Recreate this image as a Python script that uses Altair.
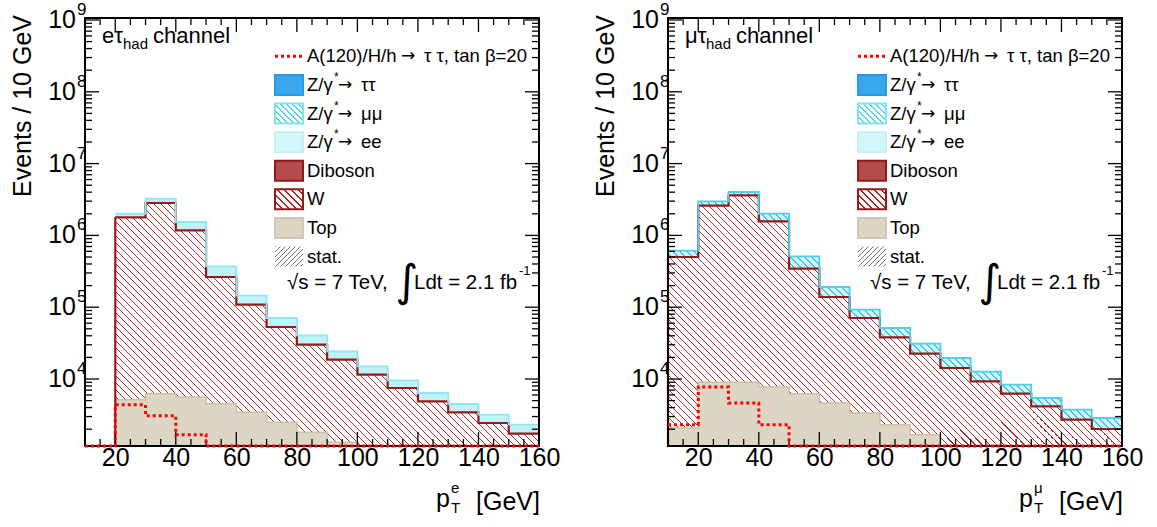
import math
import altair as alt
import pandas as pd

# ---------------- data ----------------
BIN_LO = [10, 20, 30, 40, 50, 60, 70, 80, 90, 100, 110, 120, 130, 140, 150]
BIN_END = 160
X_LABELS = [20, 40, 60, 80, 100, 120, 140, 160]
X_MINOR = [15, 25, 30, 35, 45, 50, 55, 65, 70, 75, 85, 90, 95, 105, 110, 115, 125, 130, 135, 145, 150, 155]
Y_EXPONENTS = [4, 5, 6, 7, 8, 9]
Y_MINOR_MULT = [2, 3, 4, 5, 6, 7, 8, 9]
Y_DOMAIN = [1167, 1.066e9]
X_DOMAIN = [10, 160]

# e tau_had channel (cumulative stack levels)
E_W = [None, 1.787e6, 2.827e6, 1.178e6, 2.634e5, 1.084e5, 5.30e4, 3.005e4, 1.857e4, 1.148e4, 7493, 4892, 3438, 2439, 1731]
E_TOTAL = [None, 2.006e6, 3.245e6, 1.537e6, 3.713e5, 1.446e5, 7.07e4, 4.061e4, 2.431e4, 1.503e4, 9592, 6384, 4486, 3183, 2310]
E_TOP = [None, 5149, 6243, 5615, 4529, 3438, 2495, 1809, 1314, 950, 750, 600, 450, 350, 250]
E_SIGNAL = [900, 4386, 3083, 1676, 1000, 850, 700, 600, 500, 400, 300, 250, 200, 150, 120]

# mu tau_had channel
M_W = [5.003e5, 2.593e6, 3.618e6, 1.572e6, 3.439e5, 1.387e5, 7.07e4, 3.809e4, 2.251e4, 1.423e4, 9290, 6243, 4168, 2713, 2012]
M_TOTAL = [6.124e5, 2.985e6, 4.022e6, 2.006e6, 5.117e5, 1.911e5, 9.23e4, 5.133e4, 3.102e4, 1.961e4, 1.264e4, 8332, 5438, 3737, 2863]
M_TOP = [2078, 8998, 8998, 7739, 6243, 4632, 3361, 2310, 1676, 950, 750, 600, 450, 350, 250]
M_SIGNAL = [2310, 7739, 4632, 2310, 1000, 850, 700, 600, 500, 400, 300, 250, 200, 150, 120]

LEGEND_SIGNAL = ["A(120)/H/h", "\u2192", "\u03c4 \u03c4, tan \u03b2=20"]
LEGEND_Z = ["\u03c4\u03c4", "\u03bc\u03bc", "ee"]
LEGEND_OTHER = ["Diboson", "W", "Top", "stat."]
Y_TITLE = "Events / 10 GeV"

FONT = "Liberation Sans, Arial, DejaVu Sans"
PW, PH = 454, 428

# ---------------- helpers ----------------
LY0, LY1 = math.log10(Y_DOMAIN[0]), math.log10(Y_DOMAIN[1])


def xs(v):
    return PW * (v - X_DOMAIN[0]) / (X_DOMAIN[1] - X_DOMAIN[0])


def ys(v):
    v = max(v, Y_DOMAIN[0])
    return PH * (1 - (math.log10(v) - LY0) / (LY1 - LY0))


def hatch(bw, bh, period, lw, line, gap, direction="back"):
    total = bw + bh
    stops = []
    j = 0
    while j * period < total:
        a = j * period / total
        b = min((j * period + lw) / total, 1)
        c = min((j + 1) * period / total, 1)
        stops += [{"offset": a, "color": line}, {"offset": b, "color": line},
                  {"offset": b, "color": gap}, {"offset": c, "color": gap}]
        j += 1
    k = total / (bw ** 2 + bh ** 2)
    if direction == "back":
        x1, y1, x2, y2 = 0, 1, k * bw, 1 - k * bh
    else:
        x1, y1, x2, y2 = 0, 0, k * bw, k * bh
    return {"gradient": "linear", "x1": x1, "y1": y1, "x2": x2, "y2": y2, "stops": stops}


def step_df(vals, vals2=None):
    rows = []
    last = None
    for i, lo in enumerate(BIN_LO):
        v = vals[i]
        if v is None:
            continue
        r = {"x": lo, "v": v}
        if vals2 is not None:
            r["v2"] = vals2[i]
        rows.append(r)
        last = dict(r)
    last["x"] = BIN_END
    rows.append(last)
    return pd.DataFrame(rows)


ONE = pd.DataFrame({"k": [0]})
XSCALE = alt.Scale(domain=X_DOMAIN, nice=False, zero=False)
YSCALE = alt.Scale(type="log", domain=Y_DOMAIN, nice=False, clamp=True)
XAXIS = alt.Axis(values=X_LABELS, labelFont=FONT, labelFontSize=25, labelColor="black",
                 tickSize=0, domain=False, grid=False, labelPadding=11, labelBaseline="middle",
                 title=None, labelFlush=False, labelOverlap=False)
XENC = alt.X("x:Q", scale=XSCALE, axis=XAXIS)
YENC = alt.Y("v:Q", scale=YSCALE, axis=None)


def txt(s, x, y, size, align="left", baseline="middle", dy=0, angle=0, font=FONT, color="black"):
    return alt.Chart(ONE).mark_text(text=s, fontSize=size, align=align, baseline=baseline,
                                    dy=dy, angle=angle, font=font, color=color).encode(
        x=alt.value(x), y=alt.value(y))


def panel(Wv, Tv, Topv, Sv, chan, xsup, band_kind):
    layers = []
    wdf = step_df(Wv)
    first_x = wdf["x"].iloc[0]
    bw = PW - xs(first_x)
    bh = PH - ys(max(v for v in Wv if v is not None))
    wfill = hatch(bw, bh, 7.0, 1.6, "#ad2a2a", "#ffffff")
    layers.append(alt.Chart(wdf).mark_area(interpolate="step-after", fill=wfill, opacity=1)
                  .encode(x=XENC, y=YENC, y2=alt.value(PH)))
    # Z band between W and total
    bdf = step_df(Tv, Wv)
    if band_kind == "hatch":
        tv = [v for v in Tv if v is not None]
        wv = [v for v in Wv if v is not None]
        bbw = PW - xs(bdf["x"].iloc[0])
        bbh = ys(min(wv)) - ys(max(tv))
        bfill = hatch(bbw, bbh, 7.0, 1.8, "#3fcbe6", "#d6f6fb")
    else:
        bfill = "#c2f1f8"
    layers.append(alt.Chart(bdf).mark_area(interpolate="step-after", fill=bfill, opacity=1)
                  .encode(x=XENC, y=YENC, y2=alt.Y2("v2:Q")))
    # Top
    tdf = step_df(Topv)
    layers.append(alt.Chart(tdf).mark_area(interpolate="step-after", fill="#ddd6c5", opacity=1)
                  .encode(x=XENC, y=YENC, y2=alt.value(PH)))
    layers.append(alt.Chart(tdf).mark_line(interpolate="step-after", color="#cbc1a6", strokeWidth=1.5)
                  .encode(x=XENC, y=YENC))
    # W outline
    layers.append(alt.Chart(wdf).mark_line(interpolate="step-after", color="#961a1a", strokeWidth=2.2)
                  .encode(x=XENC, y=YENC))
    layers.append(alt.Chart(wdf.head(1)).mark_rule(color="#961a1a", strokeWidth=2.2)
                  .encode(x=XENC, y=YENC, y2=alt.value(PH)))
    # band top line
    line_col = "#4fd0ea" if band_kind == "hatch" else "#8fe6f4"
    layers.append(alt.Chart(step_df(Tv)).mark_line(interpolate="step-after", color=line_col, strokeWidth=1.8)
                  .encode(x=XENC, y=YENC))
    # frame
    layers.append(alt.Chart(ONE).mark_rect(fillOpacity=0, stroke="black", strokeWidth=2)
                  .encode(x=alt.value(0), x2=alt.value(PW), y=alt.value(0), y2=alt.value(PH)))
    # ticks
    xmaj = pd.DataFrame({"x": X_LABELS})
    xmin = pd.DataFrame({"x": X_MINOR})
    for df, ln in ((xmaj, 14), (xmin, 7)):
        layers.append(alt.Chart(df).mark_rule(color="black", strokeWidth=1.3)
                      .encode(x=XENC, y=alt.value(PH), y2=alt.value(PH - ln)))
        layers.append(alt.Chart(df).mark_rule(color="black", strokeWidth=1.3)
                      .encode(x=XENC, y=alt.value(0), y2=alt.value(ln)))
    ymaj = pd.DataFrame({"v": [10.0 ** e for e in Y_EXPONENTS]})
    ymin_vals = [m * 10.0 ** e for e in range(3, 9) for m in Y_MINOR_MULT]
    ymin_vals = [v for v in ymin_vals if Y_DOMAIN[0] <= v <= Y_DOMAIN[1]]
    ymnr = pd.DataFrame({"v": ymin_vals})
    for df, ln in ((ymaj, 14), (ymnr, 7)):
        layers.append(alt.Chart(df).mark_rule(color="black", strokeWidth=1.3)
                      .encode(y=YENC, x=alt.value(0), x2=alt.value(ln)))
        layers.append(alt.Chart(df).mark_rule(color="black", strokeWidth=1.3)
                      .encode(y=YENC, x=alt.value(PW), x2=alt.value(PW - ln)))
    # signal
    layers.append(alt.Chart(step_df(Sv)).mark_line(interpolate="step-after", color="#ff0000",
                                                    strokeWidth=3, strokeDash=[3, 3])
                  .encode(x=XENC, y=YENC))
    # y tick labels
    ylab = pd.DataFrame({"v": [10.0 ** e for e in Y_EXPONENTS], "e": [str(e) for e in Y_EXPONENTS]})
    layers.append(alt.Chart(ylab).mark_text(text="10", fontSize=25, font=FONT, align="right",
                                            baseline="middle", color="black")
                  .encode(y=YENC, x=alt.value(-9)))
    layers.append(alt.Chart(ylab).mark_text(fontSize=17, font=FONT, align="left",
                                            baseline="middle", dy=-10, color="black")
                  .encode(y=YENC, x=alt.value(-8), text="e:N"))
    # y title
    layers.append(txt(Y_TITLE, -54, -3, 25, align="right", baseline="alphabetic", angle=270))
    # x title
    layers.append(txt("[GeV]", PW + 1, 484, 25, align="right"))
    layers.append(txt("p", 365, 481, 25, align="right"))
    layers.append(txt(xsup, 366, 481, 15, dy=-11))
    layers.append(txt("T", 366, 481, 15, dy=9))
    # channel label
    layers.append(txt(chan, 17, 18, 22))
    layers.append(txt("had", 38, 18, 15, dy=8))
    layers.append(txt("channel", 68, 18, 22))
    # legend
    r0, rs = 38.3, 28.6
    sx0, sx1, tx = 190, 218, 222
    rows = [r0 + rs * i for i in range(8)]
    layers.append(alt.Chart(ONE).mark_rule(color="#ff0000", strokeWidth=3, strokeDash=[3, 3])
                  .encode(x=alt.value(sx0), x2=alt.value(sx1), y=alt.value(rows[0])))
    layers.append(txt(LEGEND_SIGNAL[0], tx, rows[0], 18.5))
    layers.append(txt(LEGEND_SIGNAL[1], 316, rows[0], 17, font="DejaVu Sans"))
    layers.append(txt(LEGEND_SIGNAL[2], 339, rows[0], 18.5))
    sw_styles = [
        dict(fill="#3aa6ee", stroke="#2a97e3"),
        dict(fill=hatch(28, 20, 6.0, 1.6, "#55d6ec", "#ffffff"), stroke="#7fe3f3"),
        dict(fill="#d4f7fb", stroke="#c4f2f8"),
        dict(fill="#b44c4c", stroke="#8e1a1a"),
        dict(fill=hatch(28, 20, 7.0, 1.6, "#a82222", "#ffffff"), stroke="#961a1a"),
        dict(fill="#ddd6c5", stroke="#d0c8b2"),
        dict(fill=hatch(28, 20, 5.0, 1.4, "#777777", "#ffffff", "fwd"), stroke=None),
    ]
    for i, st in enumerate(sw_styles):
        yc = rows[i + 1]
        kw = dict(fill=st["fill"], opacity=1)
        if st["stroke"] is not None:
            kw.update(stroke=st["stroke"], strokeWidth=2)
        layers.append(alt.Chart(ONE).mark_rect(**kw)
                      .encode(x=alt.value(sx0), x2=alt.value(sx1), y=alt.value(yc - 10), y2=alt.value(yc + 10)))
    for i, lab in enumerate(LEGEND_Z):
        yc = rows[i + 1]
        layers.append(txt("Z/\u03b3", tx, yc, 18.5))
        layers.append(txt("*", tx + 27, yc, 12, dy=-8))
        layers.append(txt("\u2192", tx + 31, yc, 17, font="DejaVu Sans"))
        layers.append(txt(lab, tx + 54, yc, 18.5))
    for i, lab in enumerate(LEGEND_OTHER):
        layers.append(txt(lab, tx, rows[i + 4], 18.5))
    # energy / lumi
    ey = 265
    layers.append(txt("\u221as = 7 TeV,", 202, ey, 20.5))
    layers.append(txt("\u222b", 322, ey, 44, align="center", font="DejaVu Sans"))
    layers.append(txt("Ldt = 2.1 fb", 329, ey, 20.5))
    layers.append(txt("-1", 434, ey, 13, dy=-12))
    return alt.layer(*layers).properties(width=PW, height=PH)


left = panel(E_W, E_TOTAL, E_TOP, E_SIGNAL, "e\u03c4", "e", "dots")
right = panel(M_W, M_TOTAL, M_TOP, M_SIGNAL, "\u03bc\u03c4", "\u03bc", "hatch")

chart = alt.hconcat(left, right, spacing=129, bounds="flush").properties(
    padding={"left": 10, "top": 0, "right": 0, "bottom": 0}
).configure_view(stroke=None).configure(background="white")

chart.save("out.html", embed_options={"renderer": "svg", "actions": False})
